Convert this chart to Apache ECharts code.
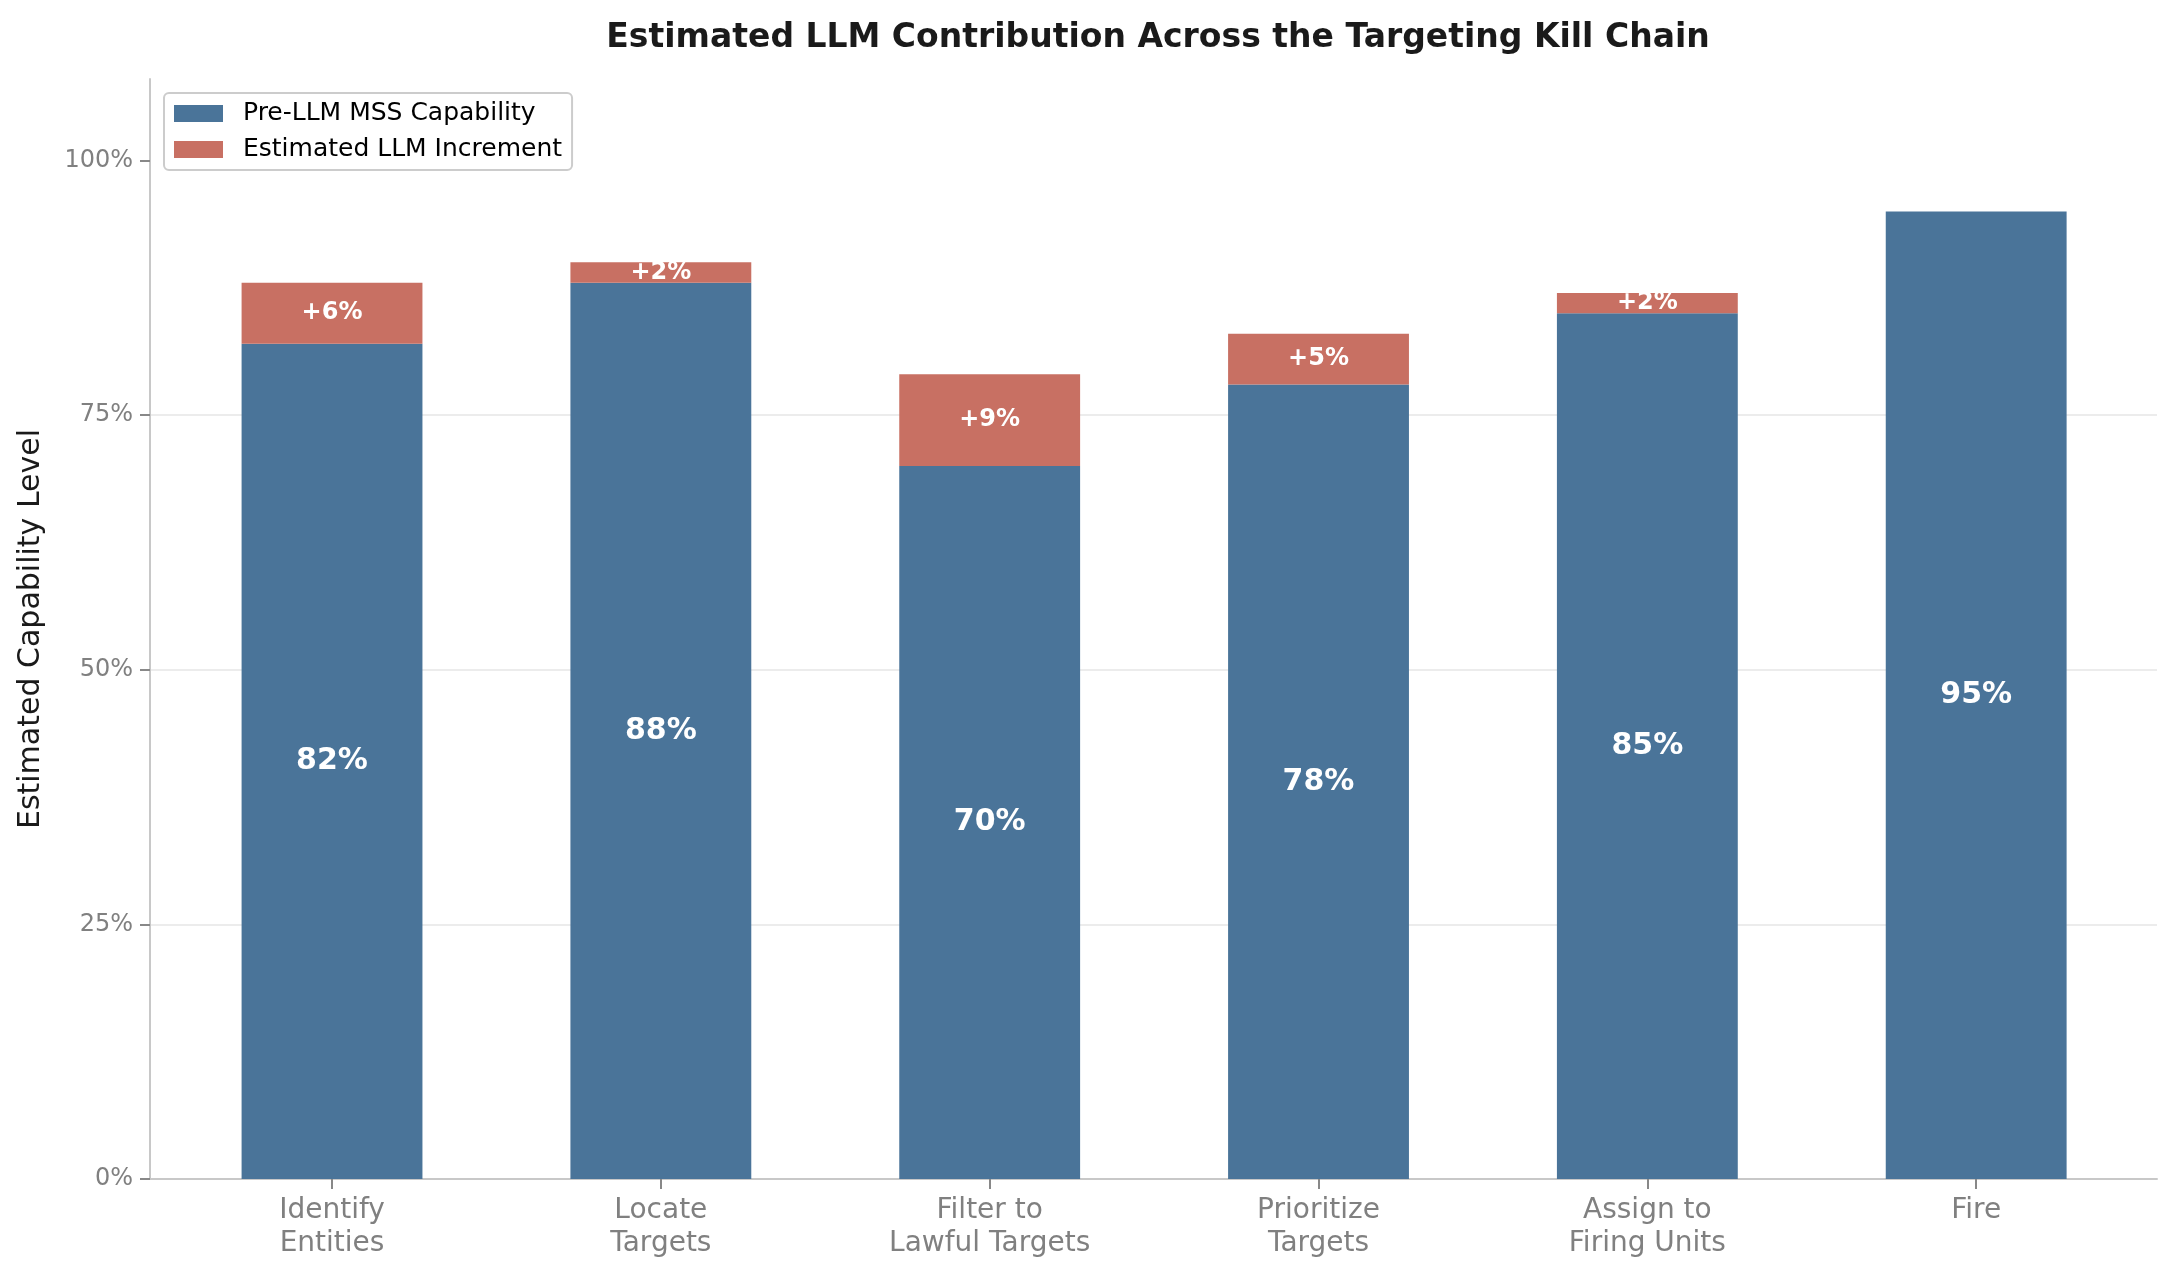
<!DOCTYPE html>
<html><head><meta charset="utf-8">
<script src="https://cdn.jsdelivr.net/npm/echarts@6/dist/echarts.min.js"></script>
<style>html,body{margin:0;padding:0;background:#fff}#c{width:2178px;height:1278px}</style>
</head><body><div id="c"></div>
<script>
var categories = ['Identify\nEntities','Locate\nTargets','Filter to\nLawful Targets','Prioritize\nTargets','Assign to\nFiring Units','Fire'];
var preLLM = [82, 88, 70, 78, 85, 95];
var increment = [6, 2, 9, 5, 2, 0];
var yTicks = [0, 25, 50, 75, 100];

var F = 'DejaVu Sans';
var yMax = 108;

var chart = echarts.init(document.getElementById('c'));
chart.setOption({
  animation: false,
  backgroundColor: '#fff',
  title: {
    text: 'Estimated LLM Contribution Across the Targeting Kill Chain',
    left: 1153, top: 17, textAlign: 'center',
    textStyle: {fontFamily: F, fontSize: 33, fontWeight: 'bold', color: '#1a1a1a'}
  },
  legend: {
    left: 164, top: 93, orient: 'vertical',
    itemWidth: 49, itemHeight: 17, itemGap: 11,
    padding: [8, 10, 8, 10],
    borderColor: '#cccccc', borderWidth: 2, borderRadius: 5,
    backgroundColor: 'rgba(255,255,255,0.8)',
    textStyle: {fontFamily: F, fontSize: 25, color: '#000', padding: [0, 0, 0, 15]},
    data: [{name: 'Pre-LLM MSS Capability', icon: 'rect'}, {name: 'Estimated LLM Increment', icon: 'rect'}]
  },
  grid: [
    {left: 167.6, right: 37.4, top: 79, bottom: 99, containLabel: false},
    {left: 150, right: 21, top: 79, bottom: 99, containLabel: false}
  ],
  xAxis: [
    {
      type: 'category', gridIndex: 0, data: categories, boundaryGap: true,
      axisLine: {show: false},
      axisTick: {show: true, alignWithLabel: true, length: 10, lineStyle: {color: '#888', width: 2}},
      axisLabel: {fontFamily: F, fontSize: 28, color: '#808080', lineHeight: 33, margin: 15, interval: 0},
      splitLine: {show: false}
    },
    {
      type: 'value', gridIndex: 1, min: 0, max: 1,
      axisLine: {show: true, lineStyle: {color: '#c8c8c8', width: 2}},
      axisTick: {show: false}, axisLabel: {show: false}, splitLine: {show: false}
    }
  ],
  yAxis: [
    {
      type: 'value', gridIndex: 0, min: 0, max: yMax,
      axisLine: {show: false}, axisTick: {show: false}, axisLabel: {show: false}, splitLine: {show: false}
    },
    {
      type: 'value', gridIndex: 1, min: 0, max: yMax,
      name: 'Estimated Capability Level', nameLocation: 'middle', nameGap: 104,
      nameTextStyle: {fontFamily: F, fontSize: 30, color: '#1a1a1a'},
      axisLine: {show: true, onZero: false, lineStyle: {color: '#c8c8c8', width: 2}},
      axisTick: {show: true, customValues: yTicks, length: 10, lineStyle: {color: '#888', width: 2}},
      axisLabel: {customValues: yTicks, formatter: function(v){ return v + '%'; },
        fontFamily: F, fontSize: 24, color: '#808080', margin: 17},
      splitLine: {show: true, showMaxLine: false, lineStyle: {color: '#ececec', width: 2}}
    }
  ],
  series: [
    {
      name: 'Pre-LLM MSS Capability', type: 'bar', stack: 'total', barWidth: '55%',
      xAxisIndex: 0, yAxisIndex: 0, z: 3,
      data: preLLM,
      itemStyle: {color: '#4a7499'},
      label: {show: true, position: 'inside', formatter: function(p){ return p.value + '%'; },
        fontFamily: F, fontSize: 30, fontWeight: 'bold', color: '#fff'}
    },
    {
      name: 'Estimated LLM Increment', type: 'bar', stack: 'total', barWidth: '55%',
      xAxisIndex: 0, yAxisIndex: 0, z: 3,
      data: increment,
      itemStyle: {color: '#c87063'},
      label: {show: true, position: 'inside', formatter: function(p){ return p.value > 0 ? '+' + p.value + '%' : ''; },
        fontFamily: F, fontSize: 24, fontWeight: 'bold', color: '#fff'}
    }
  ]
});
</script></body></html>
